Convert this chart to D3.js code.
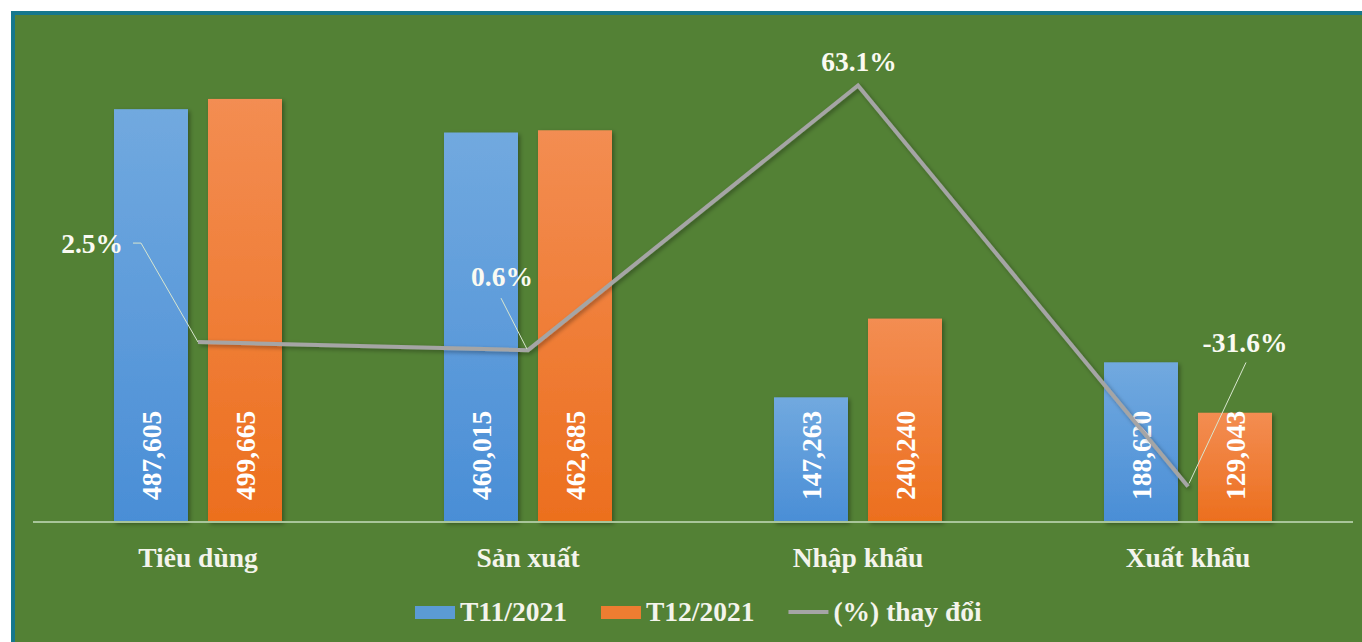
<!DOCTYPE html>
<html>
<head>
<meta charset="utf-8">
<script src="https://cdn.jsdelivr.net/npm/d3@7/dist/d3.min.js"></script>
<style>
  html, body { margin: 0; padding: 0; background: #fff; }
  svg { display: block; }
  text { font-family: "Liberation Serif", "Times New Roman", serif; font-weight: bold; }
</style>
</head>
<body>
<svg id="chart" width="1362" height="642"></svg>
<script>
// ---- data ----
const categories = ["Tiêu dùng", "Sản xuất", "Nhập khẩu", "Xuất khẩu"];
const seriesNames = ["T11/2021", "T12/2021"];
const t11Values = [487605, 460015, 147263, 188620];
const t12Values = [499665, 462685, 240240, 129043];
const changePct = [2.5, 0.6, 63.1, -31.6];
const lineName = "(%) thay đổi";

// ---- layout (not data) ----
const W = 1362, H = 642;
const plot = { left: 33, right: 1353, top: 14, bottom: 522 };
// percent label placement relative to point
const pctLabelLayout = [
  { dx: -75, dy: -89, anchor: "end",    leader: [[-65, -99], [-57, -99], [0, 0]] },
  { dx: -26, dy: -64, anchor: "middle", leader: [[-27, -52], [-1, -1]] },
  { dx: 1,   dy: -15, anchor: "middle", leader: null },
  { dx: 57,  dy: -134, anchor: "middle", leader: [[58, -124], [1, -3]] }
];

const svg = d3.select("#chart");
const defs = svg.append("defs");

const gradBlue = defs.append("linearGradient").attr("id", "gBlue").attr("x1", 0).attr("y1", 0).attr("x2", 0).attr("y2", 1);
gradBlue.append("stop").attr("offset", "0%").attr("stop-color", "#71A9DF");
gradBlue.append("stop").attr("offset", "100%").attr("stop-color", "#4A8ED6");
const gradOrange = defs.append("linearGradient").attr("id", "gOrange").attr("x1", 0).attr("y1", 0).attr("x2", 0).attr("y2", 1);
gradOrange.append("stop").attr("offset", "0%").attr("stop-color", "#F38D52");
gradOrange.append("stop").attr("offset", "100%").attr("stop-color", "#EC6F1E");

const shadow = defs.append("filter").attr("id", "shadow").attr("x", "-20%").attr("y", "-20%").attr("width", "140%").attr("height", "140%");
shadow.append("feDropShadow").attr("dx", 2).attr("dy", 2).attr("stdDeviation", 2).attr("flood-color", "#000").attr("flood-opacity", 0.35);

// background + border
svg.append("rect").attr("x", 0).attr("y", 0).attr("width", W).attr("height", H).attr("fill", "#ffffff");
svg.append("rect").attr("x", 11).attr("y", 11).attr("width", W - 11).attr("height", H - 11).attr("fill", "#16788C");
svg.append("rect").attr("x", 15).attr("y", 15).attr("width", W - 15).attr("height", H - 15).attr("fill", "#538135");

// scales
const x0 = d3.scaleBand().domain(categories).range([plot.left, plot.right]).padding(0);
const x1 = d3.scaleBand().domain(seriesNames).range([0, x0.bandwidth()]).paddingInner(0.2128).paddingOuter(0.8617);
const y = d3.scaleLinear().domain([0, 600000]).range([plot.bottom, plot.top]);
const y2 = d3.scaleLinear().domain([-40, 80]).range([plot.bottom, plot.top]);

const fills = { "T11/2021": "url(#gBlue)", "T12/2021": "url(#gOrange)" };
const legendColors = { "T11/2021": "#5B9BD5", "T12/2021": "#ED7D31" };

const rows = categories.map((c, i) => ({ cat: c, vals: [
  { s: seriesNames[0], v: t11Values[i] },
  { s: seriesNames[1], v: t12Values[i] }
]}));

// bars
const groups = svg.append("g").selectAll("g").data(rows).join("g")
  .attr("transform", d => `translate(${x0(d.cat)},0)`);
groups.selectAll("rect").data(d => d.vals).join("rect")
  .attr("x", d => x1(d.s))
  .attr("y", d => y(d.v))
  .attr("width", x1.bandwidth())
  .attr("height", d => y(0) - y(d.v))
  .attr("fill", d => fills[d.s])
  .attr("filter", "url(#shadow)");

// x axis line
svg.append("line").attr("x1", plot.left).attr("x2", plot.right)
  .attr("y1", y(0)).attr("y2", y(0))
  .attr("stroke", "#A8C59A").attr("stroke-width", 2);

// bar value labels (rotated, inside base)
const fmt = d3.format(",");
groups.selectAll("text.val").data(d => d.vals).join("text")
  .attr("class", "val")
  .attr("transform", d => `translate(${x1(d.s) + x1.bandwidth() / 2},${y(0) - 22}) rotate(-90)`)
  .attr("text-anchor", "start")
  .attr("dy", "0.36em")
  .attr("fill", "#ffffff")
  .attr("font-size", 27.5)
  .text(d => fmt(d.v));

// category labels
svg.append("g").selectAll("text").data(categories).join("text")
  .attr("x", d => x0(d) + x0.bandwidth() / 2)
  .attr("y", 567)
  .attr("text-anchor", "middle")
  .attr("fill", "#F4F4EC")
  .attr("font-size", 27.5)
  .text(d => d);

// line series
const pts = categories.map((c, i) => ({ x: x0(c) + x0.bandwidth() / 2, y: y2(changePct[i]), v: changePct[i], i }));
const line = d3.line().x(d => d.x).y(d => d.y);
svg.append("path").datum(pts)
  .attr("d", line)
  .attr("fill", "none")
  .attr("stroke", "#A5A5A5")
  .attr("stroke-width", 4)
  .attr("stroke-linejoin", "miter")
  .attr("filter", "url(#shadow)");

// leader lines
pts.forEach(p => {
  const L = pctLabelLayout[p.i];
  if (L.leader) {
    svg.append("polyline")
      .attr("points", L.leader.map(q => `${p.x + q[0]},${p.y + q[1]}`).join(" "))
      .attr("fill", "none")
      .attr("stroke", "#D8E6CF")
      .attr("stroke-width", 1);
  }
});

// percent labels
svg.append("g").selectAll("text").data(pts).join("text")
  .attr("x", d => d.x + pctLabelLayout[d.i].dx)
  .attr("y", d => d.y + pctLabelLayout[d.i].dy)
  .attr("text-anchor", d => pctLabelLayout[d.i].anchor)
  .attr("fill", "#FAFAF2")
  .attr("font-size", 27.5)
  .text(d => d.v.toFixed(1) + "%");

// legend
const lg = svg.append("g");
const legendItems = [
  { name: seriesNames[0], type: "rect", color: legendColors[seriesNames[0]] },
  { name: seriesNames[1], type: "rect", color: legendColors[seriesNames[1]] },
  { name: lineName, type: "line", color: "#A5A5A5" }
];
let lx = 415;
legendItems.forEach(it => {
  if (it.type === "rect") {
    lg.append("rect").attr("x", lx).attr("y", 606).attr("width", 40).attr("height", 13)
      .attr("fill", it.color);
  } else {
    lg.append("line").attr("x1", lx).attr("x2", lx + 40).attr("y1", 612).attr("y2", 612)
      .attr("stroke", it.color).attr("stroke-width", 4);
  }
  const t = lg.append("text").attr("x", lx + 45).attr("y", 621)
    .attr("fill", "#F4F4EC").attr("font-size", 27.5).text(it.name);
  lx = lx + 45 + t.node().getComputedTextLength() + 34;
});
</script>
</body>
</html>
